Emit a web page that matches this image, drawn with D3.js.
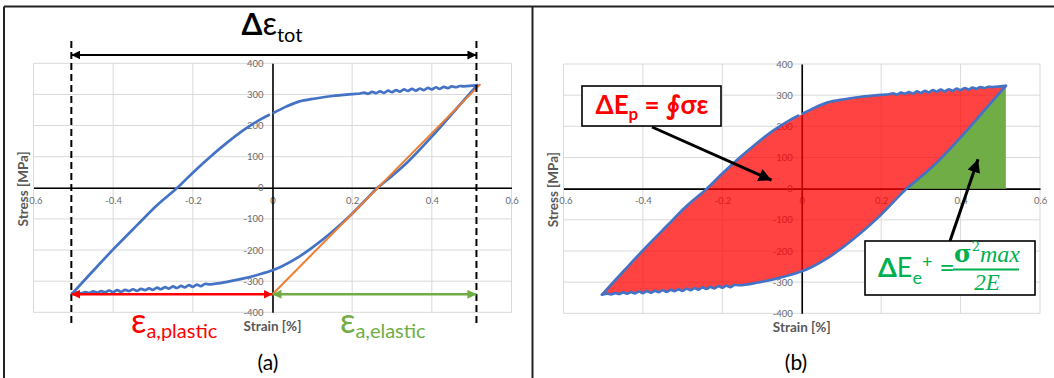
<!DOCTYPE html>
<html>
<head>
<meta charset="utf-8">
<script src="https://cdn.jsdelivr.net/npm/d3@7"></script>
<style>
  html, body { margin: 0; padding: 0; background: #fff; }
  svg { display: block; font-family: Lato, "Open Sans", "DejaVu Sans", sans-serif; }
</style>
</head>
<body>
<svg id="fig" width="1054" height="378"></svg>
<script>
// ---- axis ticks ----
const strainTicks = [-0.6, -0.4, -0.2, 0, 0.2, 0.4, 0.6];
const strainTickLabels = ["-0.6", "-0.4", "-0.2", "0", "0.2", "0.4", "0.6"];
const stressTicks = [-400, -300, -200, -100, 0, 100, 200, 300, 400];
const stressTickLabels = ["-400", "-300", "-200", "-100", "0", "100", "200", "300", "400"];

// ---- hysteresis loop: loading branch (compression tip -> tension tip), null = gap in the record ----
const loadStrain = [-0.503, -0.449, -0.394, -0.340, -0.290, -0.239, -0.198, -0.156, -0.114, -0.072, -0.030, -0.009,
  null,
  0.003, 0.033, 0.066, 0.108, 0.150, 0.200, 0.220, 0.230, 0.240, 0.250, 0.260, 0.270, 0.280, 0.290, 0.300,
  0.310, 0.320, 0.330, 0.340, 0.350, 0.360, 0.370, 0.380, 0.390, 0.400, 0.410, 0.420, 0.430, 0.440, 0.450,
  0.460, 0.470, 0.480, 0.500, 0.514];
const loadStress = [-340, -265, -190, -120, -56, 0, 51, 100, 145, 186, 220, 234,
  null,
  241, 260, 277, 287, 295, 301, 303, 306, 302, 308, 304, 310, 305, 312, 307,
  314, 309, 316, 311, 318, 312, 319, 314, 321, 316, 323, 318, 324, 320, 326,
  323, 327, 326, 328, 330];

// ---- unloading branch (tension tip -> compression tip) ----
const unloadStrain = [0.514, 0.459, 0.401, 0.342, 0.300, 0.263, 0.233, 0.192, 0.150, 0.108, 0.066, 0.024, 0.000,
  -0.030, -0.072, -0.114, -0.156, -0.170, -0.180, -0.190, -0.200, -0.210, -0.220, -0.230, -0.240, -0.250,
  -0.260, -0.270, -0.280, -0.290, -0.300, -0.310, -0.320, -0.330, -0.340, -0.350, -0.360, -0.370, -0.380,
  -0.390, -0.400, -0.410, -0.420, -0.430, -0.440, -0.450, -0.460, -0.470, -0.480, -0.490, -0.503];
const unloadStress = [330, 250, 166, 86, 38, -1, -40, -93, -141, -184, -222, -252, -265,
  -277, -291, -302, -310, -309, -316, -311, -318, -313, -320, -315, -322, -317,
  -324, -319, -326, -321, -328, -323, -329, -325, -331, -326, -332, -328, -334,
  -329, -335, -330, -336, -332, -337, -333, -338, -335, -339, -337, -340];

// ---- elastic reference line (orange) ----
const elasticStrain = [0, 0.522];
const elasticStress = [-342, 333];

// ---- strain amplitude markers ----
const strainLimits = [-0.505, 0.512];
const amplitudeArrowStress = -342;

// ---- callout arrow targets (strain, stress) ----
const plasticCalloutTarget = [-0.076, 27];
const elasticCalloutTarget = [0.444, 94];

const C = {
  blue: "#4472C4", orange: "#ED7D31", red: "#FF0000", green: "#70AD47",
  green2: "#00B050", grid: "#D9D9D9", tick: "#6a6a6a", title: "#595959"
};

const svg = d3.select("#fig");
const defs = svg.append("defs");
function arrowMarker(id, color, size) {
  defs.append("marker")
    .attr("id", id)
    .attr("viewBox", "0 0 10 10")
    .attr("refX", 10).attr("refY", 5)
    .attr("markerUnits", "userSpaceOnUse")
    .attr("markerWidth", size).attr("markerHeight", size)
    .attr("orient", "auto-start-reverse")
    .append("path").attr("d", "M0,0 L10,5 L0,10 Z").attr("fill", color);
}
arrowMarker("hBlack", "#000", 9);
arrowMarker("hRed", C.red, 9);
arrowMarker("hGreen", C.green, 9);
arrowMarker("hCallout", "#000", 13);

// figure frame
const frame = svg.append("g").attr("stroke", "#222").attr("stroke-width", 2).attr("fill", "none");
frame.append("line").attr("x1", 4).attr("x2", 1054).attr("y1", 6.5).attr("y2", 6.5);
frame.append("line").attr("x1", 4).attr("x2", 4).attr("y1", 6.5).attr("y2", 378);
frame.append("line").attr("x1", 532.5).attr("x2", 532.5).attr("y1", 6.5).attr("y2", 378);

function makeScales(left, right, top, bottom) {
  return {
    x: d3.scaleLinear().domain([-0.6, 0.6]).range([left, right]),
    y: d3.scaleLinear().domain([-400, 400]).range([bottom, top])
  };
}
const A = makeScales(33.5, 511.5, 63.3, 312.3);
const B = makeScales(563.5, 1040, 64, 313.3);

const loadPts = loadStrain.map((s, i) => ({ e: s, s: loadStress[i] }));
const unloadPts = unloadStrain.map((s, i) => ({ e: s, s: unloadStress[i] }));

function gridAndAxes(g, sc) {
  const [x0, x1] = sc.x.range();
  const [yBottom, yTop] = sc.y.range();
  const grid = g.append("g").attr("stroke", C.grid).attr("stroke-width", 1);
  grid.selectAll(".gx").data(strainTicks).join("line")
    .attr("x1", d => sc.x(d)).attr("x2", d => sc.x(d)).attr("y1", yTop).attr("y2", yBottom);
  grid.selectAll(".gy").data(stressTicks).join("line")
    .attr("x1", x0).attr("x2", x1).attr("y1", d => sc.y(d)).attr("y2", d => sc.y(d));

  const xAxis = d3.axisBottom(sc.x).tickValues(strainTicks)
    .tickFormat((d, i) => strainTickLabels[i]).tickSize(0).tickPadding(9);
  const yAxis = d3.axisLeft(sc.y).tickValues(stressTicks)
    .tickFormat((d, i) => stressTickLabels[i]).tickSize(0).tickPadding(9);

  const gx = g.append("g").attr("transform", `translate(0,${sc.y(0)})`).call(xAxis);
  const gy = g.append("g").attr("transform", `translate(${sc.x(0)},0)`).call(yAxis);
  [gx, gy].forEach(a => {
    a.select(".domain").attr("stroke", "#000").attr("stroke-width", 1.6);
    a.selectAll("text").attr("fill", C.tick).attr("font-size", 9.5)
      .attr("font-family", "Lato, 'Open Sans', sans-serif");
  });

  g.append("text")
    .attr("transform", `translate(${x0 - 10},${sc.y(0) + 1}) rotate(-90)`)
    .attr("text-anchor", "middle").attr("dy", "0.35em")
    .attr("font-size", 13.5).attr("font-weight", "bold").attr("fill", C.title)
    .text("Stress [MPa]");
  g.append("text")
    .attr("x", sc.x(0)).attr("y", yBottom + 14).attr("dy", "0.35em")
    .attr("text-anchor", "middle")
    .attr("font-size", 13.5).attr("font-weight", "bold").attr("fill", C.title)
    .text("Strain [%]");
}

function loopLines(g, sc) {
  const line = d3.line().defined(d => d.e !== null)
    .x(d => sc.x(d.e)).y(d => sc.y(d.s)).curve(d3.curveCatmullRom.alpha(0.5));
  g.append("path").datum(loadPts).attr("d", line)
    .attr("fill", "none").attr("stroke", C.blue).attr("stroke-width", 2.7)
    .attr("stroke-linejoin", "round").attr("stroke-linecap", "round");
  g.append("path").datum(unloadPts).attr("d", line)
    .attr("fill", "none").attr("stroke", C.blue).attr("stroke-width", 2.7)
    .attr("stroke-linejoin", "round").attr("stroke-linecap", "round");
}

// ================= panel (a) =================
const ga = svg.append("g");
gridAndAxes(ga, A);
loopLines(ga, A);

ga.append("path")
  .datum(elasticStrain.map((e, i) => ({ e, s: elasticStress[i] })))
  .attr("d", d3.line().x(d => A.x(d.e)).y(d => A.y(d.s)))
  .attr("stroke", C.orange).attr("stroke-width", 2).attr("fill", "none");

// dashed strain limits
ga.selectAll(".lim").data(strainLimits).join("line")
  .attr("x1", d => A.x(d)).attr("x2", d => A.x(d))
  .attr("y1", 41).attr("y2", 325)
  .attr("stroke", "#000").attr("stroke-width", 2).attr("stroke-dasharray", "7,4");

// total strain range arrow
ga.append("line")
  .attr("x1", A.x(strainLimits[0])).attr("x2", A.x(strainLimits[1]))
  .attr("y1", 55).attr("y2", 55)
  .attr("stroke", "#000").attr("stroke-width", 2)
  .attr("marker-start", "url(#hBlack)").attr("marker-end", "url(#hBlack)");

// plastic and elastic amplitude arrows
ga.append("line")
  .attr("x1", A.x(strainLimits[0])).attr("x2", A.x(0))
  .attr("y1", A.y(amplitudeArrowStress)).attr("y2", A.y(amplitudeArrowStress))
  .attr("stroke", C.red).attr("stroke-width", 2.5)
  .attr("marker-start", "url(#hRed)").attr("marker-end", "url(#hRed)");
ga.append("line")
  .attr("x1", A.x(0)).attr("x2", A.x(strainLimits[1]))
  .attr("y1", A.y(amplitudeArrowStress)).attr("y2", A.y(amplitudeArrowStress))
  .attr("stroke", C.green).attr("stroke-width", 2.5)
  .attr("marker-start", "url(#hGreen)").attr("marker-end", "url(#hGreen)");

// labels
const tTot = ga.append("text").attr("x", 272).attr("y", 35).attr("text-anchor", "middle").attr("fill", "#000");
tTot.append("tspan").attr("font-size", 30).attr("font-weight", "bold").text("Δ");
tTot.append("tspan").attr("font-size", 32).text("ε");
tTot.append("tspan").attr("font-size", 20).attr("dy", 7).text("tot");

function epsLabel(x, color, sub) {
  const t = ga.append("text").attr("x", x).attr("y", 333).attr("fill", color);
  t.append("tspan").attr("font-size", 34).text("ε");
  t.append("tspan").attr("font-size", 20).attr("dy", 5).text(sub);
}
epsLabel(131, C.red, "a,plastic");
epsLabel(340, C.green, "a,elastic");

svg.append("text").attr("x", 268).attr("y", 370).attr("text-anchor", "middle")
  .attr("font-size", 21).attr("fill", "#000").text("(a)");

// ================= panel (b) =================
const gb = svg.append("g");
gridAndAxes(gb, B);

// dissipated plastic energy: area enclosed by the loop
const loopPts = loadPts.filter(d => d.e !== null).concat(unloadPts.slice(1));
gb.append("path").datum(loopPts)
  .attr("d", d3.line().x(d => B.x(d.e)).y(d => B.y(d.s)).curve(d3.curveCatmullRomClosed.alpha(0.5)))
  .attr("fill", C.red).attr("fill-opacity", 0.74).attr("stroke", "#fff").attr("stroke-width", 0.8);

// elastic energy: region under the unloading line above zero stress
const upper = unloadPts.filter(d => d.s > 0).slice().reverse();
const below = unloadPts.find(d => d.s <= 0);
const above = upper[0];
const e0 = below.e + (above.e - below.e) * (0 - below.s) / (above.s - below.s);
const tip = upper[upper.length - 1];
const greenPts = [{ e: e0, s: 0 }].concat(upper).concat([{ e: tip.e, s: 0 }]);
gb.append("path").datum(greenPts)
  .attr("d", d3.line().x(d => B.x(d.e)).y(d => B.y(d.s)).curve(d3.curveLinearClosed))
  .attr("fill", C.green).attr("stroke", "none");

loopLines(gb, B);

// callout: plastic energy
gb.append("line")
  .attr("x1", 652).attr("y1", 127)
  .attr("x2", B.x(plasticCalloutTarget[0])).attr("y2", B.y(plasticCalloutTarget[1]))
  .attr("stroke", "#000").attr("stroke-width", 3).attr("marker-end", "url(#hCallout)");
gb.append("rect").attr("x", 582).attr("y", 86).attr("width", 139).attr("height", 40)
  .attr("fill", "#fff").attr("stroke", "#000").attr("stroke-width", 1.6);
const tp = gb.append("text").attr("x", 652).attr("y", 114).attr("text-anchor", "middle")
  .attr("fill", C.red).attr("font-weight", "bold");
tp.append("tspan").attr("font-size", 26).text("ΔE");
tp.append("tspan").attr("font-size", 17).attr("dy", 6).text("p");
tp.append("tspan").attr("font-size", 26).attr("dy", -6).text(" = ∮σε");

// callout: elastic energy
gb.append("line")
  .attr("x1", 950).attr("y1", 241)
  .attr("x2", B.x(elasticCalloutTarget[0])).attr("y2", B.y(elasticCalloutTarget[1]))
  .attr("stroke", "#000").attr("stroke-width", 3).attr("marker-end", "url(#hCallout)");
gb.append("rect").attr("x", 865).attr("y", 241).attr("width", 170).attr("height", 54)
  .attr("fill", "#fff").attr("stroke", "#000").attr("stroke-width", 1.6);
const te = gb.append("text").attr("x", 878).attr("y", 277).attr("fill", C.green2);
te.append("tspan").attr("font-size", 27).attr("font-weight", "bold").text("Δ");
te.append("tspan").attr("font-size", 27).text("E");
te.append("tspan").attr("font-size", 18).attr("dy", 7).text("e");
te.append("tspan").attr("font-size", 18).attr("dy", -16).text("+");
te.append("tspan").attr("font-size", 27).attr("dy", 9).text(" = ");
const num = gb.append("text").attr("x", 987).attr("y", 262).attr("text-anchor", "middle")
  .attr("fill", C.green2).attr("font-family", "'DejaVu Serif', 'Liberation Serif', serif");
num.append("tspan").attr("font-size", 24).attr("font-weight", "bold").text("σ");
num.append("tspan").attr("font-size", 13).attr("dy", -11).text("2");
num.append("tspan").attr("font-size", 24).attr("font-style", "italic").attr("dy", 11)
  .attr("font-family", "'Liberation Serif', serif").text("max");
gb.append("line").attr("x1", 953).attr("x2", 1019).attr("y1", 269.5).attr("y2", 269.5)
  .attr("stroke", C.green2).attr("stroke-width", 2);
gb.append("text").attr("x", 987).attr("y", 290).attr("text-anchor", "middle")
  .attr("fill", C.green2).attr("font-size", 23).attr("font-style", "italic")
  .attr("font-family", "'Liberation Serif', serif").text("2E");

svg.append("text").attr("x", 796).attr("y", 370).attr("text-anchor", "middle")
  .attr("font-size", 21).attr("fill", "#000").text("(b)");
</script>
</body>
</html>
